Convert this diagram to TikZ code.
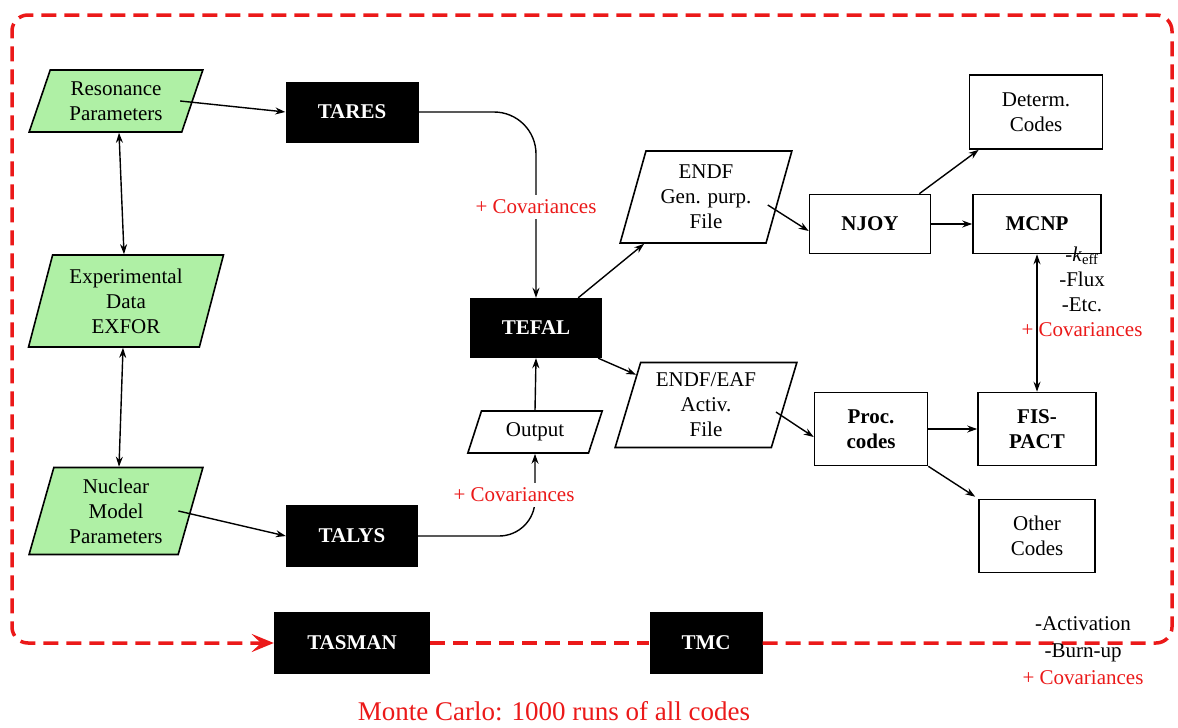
\documentclass[tikz,border=0pt]{standalone}
\usepackage{fontspec}
\setmainfont{Liberation Serif}
\usetikzlibrary{shapes.geometric,arrows.meta}
\definecolor{pgreen}{RGB}{175,240,165}
\definecolor{mcred}{RGB}{235,25,25}
\begin{document}
\begin{tikzpicture}[x=1pt,y=-1pt,
  every node/.style={font=\fontsize{21}{25}\selectfont, align=center, inner sep=2pt},
  para/.style={draw, line width=1.6pt, trapezium, trapezium stretches=true, inner sep=0pt},
  gpara/.style={para, fill=pgreen},
  blk/.style={fill=black, text=white, font=\fontsize{21}{25}\selectfont\bfseries},
  wbox/.style={draw, line width=1.6pt},
  bbox/.style={wbox, font=\fontsize{21}{25}\selectfont\bfseries},
  arr/.style={line width=1.4pt, -{Stealth[length=10pt,width=7pt]}},
  darr/.style={line width=1.4pt, {Stealth[length=10pt,width=7pt]}-{Stealth[length=10pt,width=7pt]}},
  cov/.style={text=mcred},
  mcline/.style={mcred, line width=3.5pt, dash pattern=on 15pt off 8pt}
]
\useasboundingbox (0,0) rectangle (1178,728);

% parallelograms
\node[gpara, trapezium left angle=69, trapezium right angle=111, minimum width=174, minimum height=62] (res) at (116,101) {Resonance\\Parameters};
\node[gpara, trapezium left angle=74, trapezium right angle=106, minimum width=195, minimum height=92] (exp) at (126,301) {Experimental\\Data\\EXFOR};
\node[gpara, trapezium left angle=74, trapezium right angle=106, minimum width=174, minimum height=87] (nuc) at (116,511) {Nuclear\\Model\\Parameters};
\node[para, trapezium left angle=68, trapezium right angle=112, minimum width=135, minimum height=42] (output) at (535,432) {Output};
\node[para, trapezium left angle=73, trapezium right angle=107, minimum width=172, minimum height=92] (endfg) at (706,197) {ENDF\\Gen. purp.\\File};
\node[para, trapezium left angle=73, trapezium right angle=107, minimum width=182, minimum height=85] (endfa) at (706,405) {ENDF/EAF\\Activ.\\File};

% black boxes
\node[blk, minimum width=133, minimum height=61] (tares) at (352,112) {TARES};
\node[blk, minimum width=132, minimum height=62] (talys) at (352,536) {TALYS};
\node[blk, minimum width=132, minimum height=60] (tefal) at (536,328) {TEFAL};
\node[blk, minimum width=156, minimum height=62] (tasman) at (352,643) {TASMAN};
\node[blk, minimum width=113, minimum height=62] (tmc) at (706,643) {TMC};

% white boxes
\node[bbox, minimum width=121, minimum height=59] (njoy) at (870,224) {NJOY};
\node[bbox, minimum width=128, minimum height=59] (mcnp) at (1037,224) {MCNP};
\node[wbox, minimum width=133, minimum height=74] (determ) at (1036,112) {Determ.\\Codes};
\node[bbox, minimum width=113, minimum height=73] (proc) at (871,429) {Proc.\\codes};
\node[bbox, minimum width=118, minimum height=73] (fis) at (1037,429) {FIS-\\PACT};
\node[wbox, minimum width=116, minimum height=73] (other) at (1037,536) {Other\\Codes};

% Monte Carlo loop
\draw[mcline, rounded corners=16pt, -{Stealth[length=22pt,width=18pt,inset=9pt]}]
  (tmc.east) -- (1172,643) -- (1172,15) -- (12,15) -- (12,643) -- (tasman.west);
\draw[mcline] (tasman.east) -- (tmc.west);

% connectors
\draw[arr] ([xshift=-13pt]res.east) -- (tares.west);
\draw[darr] ([xshift=3pt]res.south) -- ([xshift=-2pt]exp.north);
\draw[darr] ([xshift=-3pt]exp.south) -- ([xshift=3pt]nuc.north);
\draw[arr] ([xshift=-13pt]nuc.east) -- (talys.west);
\draw[arr, rounded corners=42pt] (tares.east) -| (tefal.north);
\draw[arr, rounded corners=36pt] (talys.east) -| (output.south);
\draw[arr] (output.north) -- (tefal.south);
\draw[arr] ([xshift=-24pt]tefal.north east) -- ([xshift=25pt]endfg.bottom left corner);
\draw[arr] ([xshift=-4pt]tefal.south east) -- ([xshift=-4pt,yshift=-13pt]endfa.top left corner);
\draw[arr] ([xshift=-12pt,yshift=-8pt]endfg.east) -- ([yshift=-7pt]njoy.west);
\draw[arr] ([xshift=-12pt]njoy.north east) -- ([xshift=10pt]determ.south west);
\draw[arr] (njoy.east) -- (mcnp.west);
\draw[darr] (mcnp.south) -- (fis.north);
\draw[arr] ([xshift=-9pt,yshift=-7pt]endfa.east) -- ([yshift=-8pt]proc.west);
\draw[arr] (proc.east) -- (fis.west);
\draw[arr] (proc.south east) -- ([xshift=-3pt,yshift=2pt]other.north west);

% labels
\node[cov, fill=white, inner ysep=5pt] (cov1) at (536,207) {+ Covariances};
\node[cov, fill=white, inner ysep=5pt] (cov2) at (514,495) {+ Covariances};
\node[font=\fontsize{21}{25}\selectfont] (mcnplab) at (1082,292) {-\textit{k}\textsubscript{eff}\\-Flux\\-Etc.\\\textcolor{mcred}{+ Covariances}};
\node[font=\fontsize{21}{27}\selectfont] (fislab) at (1083,651) {-Activation\\-Burn-up\\\textcolor{mcred}{+ Covariances}};
\node[cov, font=\fontsize{27}{30}\selectfont] (mc) at (554,711) {Monte Carlo: 1000 runs of all codes};
\end{tikzpicture}
\end{document}
